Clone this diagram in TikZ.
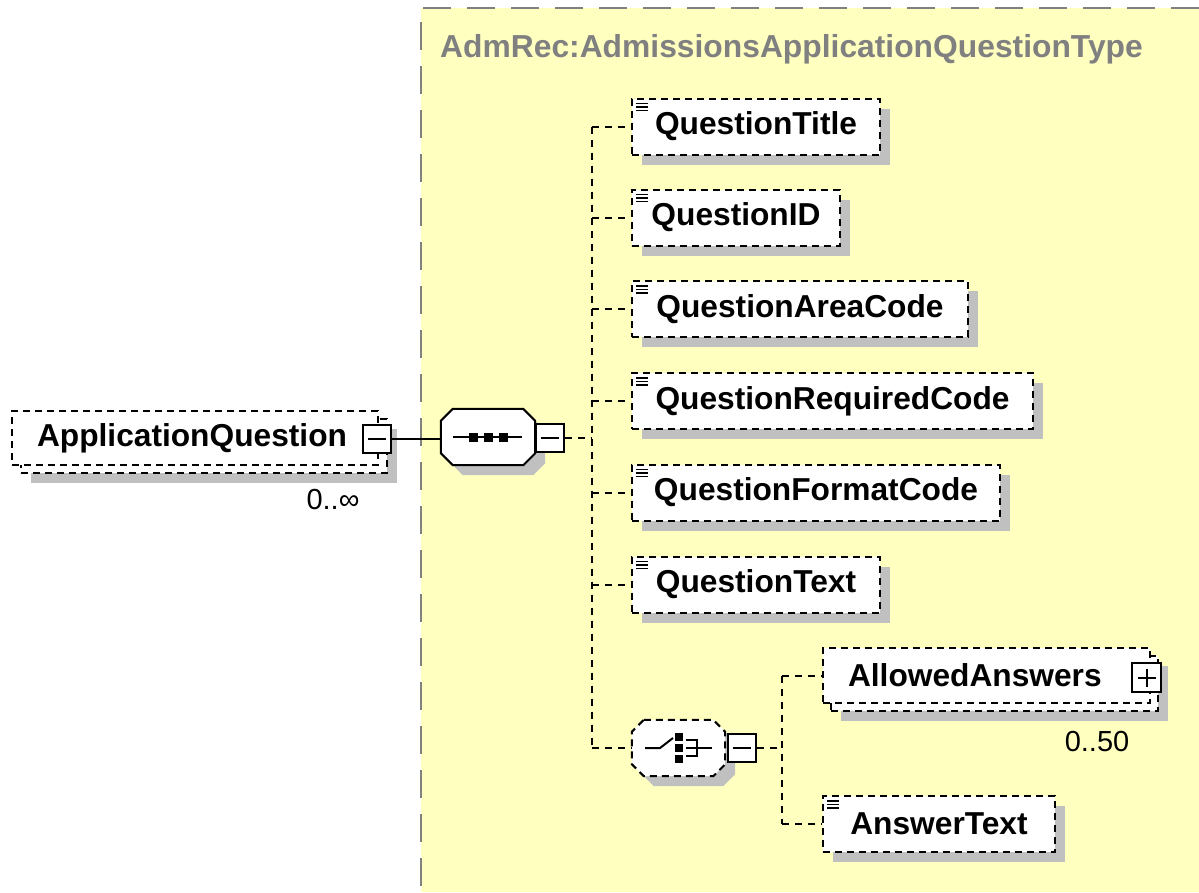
\documentclass[tikz,border=0pt]{standalone}
\usepackage{fontspec}
\setmainfont{Liberation Sans}
\usetikzlibrary{shadows,calc}
\definecolor{typebg}{RGB}{255,255,192}
\definecolor{shadowgray}{RGB}{192,192,192}
\definecolor{typegray}{RGB}{128,128,128}
\newcommand{\elemfont}{\bfseries\fontsize{31.7}{36}\selectfont}
\newcommand{\titlefont}{\bfseries\fontsize{31.8}{36}\selectfont}
\newcommand{\multfont}{\fontsize{29}{32}\selectfont}
% octagon outline around a named node
\newcommand{\octpath}[1]{($(#1.north west)+(12,0)$) -- ($(#1.north east)+(-12,0)$) -- ($(#1.north east)+(0,12)$) -- ($(#1.south east)+(0,-12)$) -- ($(#1.south east)+(-12,0)$) -- ($(#1.south west)+(12,0)$) -- ($(#1.south west)+(0,-12)$) -- ($(#1.north west)+(0,12)$) -- cycle}
\tikzset{
  shd/.style={drop shadow={shadow xshift=10pt,shadow yshift=-10pt,fill=shadowgray,opacity=1}},
  dsh/.style={dash pattern=on 7pt off 5pt},
  elem/.style={draw=black, line width=2pt, dsh, fill=white, minimum height=56pt,
    inner sep=0pt, font=\elemfont},
  leaf/.style={elem, shd},
  stackbox/.style={draw=black, line width=2pt, dsh, fill=white, shd, inner sep=0pt},
  wideelem/.style={elem, inner xsep=25pt, align=left, minimum height=54pt},
  octo/.style={rectangle, draw=none, inner sep=0pt},
  octline/.style={draw=black, line width=2pt, fill=white, shd},
  togglebox/.style={draw=black, line width=2pt, fill=white, minimum size=28pt, inner sep=0pt},
  conn/.style={draw=black, line width=2pt, dash pattern=on 7pt off 6pt},
  icon/.style={line width=2pt, black},
  mult/.style={font=\multfont, anchor=base, inner sep=0pt},
}
\begin{document}
\begin{tikzpicture}[x=1pt,y=-1pt]
\useasboundingbox (0,0) rectangle (1199,892);
\fill[white] (0,0) rectangle (1199,892);
% type area
\fill[typebg] (421,8) rectangle (1199,892);
\draw[typegray, line width=2pt, dash pattern=on 28pt off 16pt] (1199,8) -- (421,8) -- (421,892);
\node[anchor=base west, text=typegray, font=\titlefont, inner sep=0pt] (title) at (440,57) {AdmRec:AdmissionsApplicationQuestionType};

% ApplicationQuestion
\node[stackbox, minimum width=366pt, minimum height=54pt] (aqs) at (204,446) {};
\node[wideelem, text width=316pt] (aq) at (195,438) {ApplicationQuestion};
\node[togglebox] (aqm) at (376.5,438.5) {};
\draw[icon] ($(aqm.center)+(-9,0)$) -- ($(aqm.center)+(9,0)$);
\node[mult] (aqmult) at (333,509) {0..∞};

% sequence compositor
\node[octo, minimum width=94pt, minimum height=56pt] (seq) at (488,437) {};
\path[octline] \octpath{seq};
\draw[icon] ($(seq.center)+(-35,0)$) -- ($(seq.center)+(34,0)$);
\foreach \dx in {-15,0,15} \fill ($(seq.center)+(\dx-4.5,-4.5)$) rectangle ($(seq.center)+(\dx+4.5,4.5)$);
\node[togglebox] (seqm) at (549.5,437.5) {};
\draw[icon] ($(seqm.center)+(-9,0)$) -- ($(seqm.center)+(9,0)$);

\draw[line width=2pt] (aqm.east) -- (aqm.east -| seq.west);

% children
\coordinate (bx) at (592,0);
\node[leaf, minimum width=248pt] (qt)  at (756,126.5) {QuestionTitle};
\node[leaf, minimum width=208pt] (qid) at (736,217.5) {QuestionID};
\node[leaf, minimum width=336pt] (qac) at (800,309) {QuestionAreaCode};
\node[leaf, minimum width=401pt] (qrc) at (832.5,401) {QuestionRequiredCode};
\node[leaf, minimum width=368pt] (qfc) at (816,492.5) {QuestionFormatCode};
\node[leaf, minimum width=248pt] (qtx) at (756,584.5) {QuestionText};

% choice compositor
\node[octo, minimum width=93pt, minimum height=56pt] (ch) at (678.5,748) {};
\path[octline, dsh] \octpath{ch};
\draw[icon] ($(ch.center)+(-33.5,0)$) -- ($(ch.center)+(-18.5,0)$) -- ($(ch.center)+(-5.5,-10)$);
\foreach \dy in {-11,0,11} \fill ($(ch.center)+(-3.5,\dy-4)$) rectangle ($(ch.center)+(4.5,\dy+4)$);
\draw[icon] ($(ch.center)+(7,-8)$) -- ($(ch.center)+(18.5,-8)$) -- ($(ch.center)+(18.5,8)$) -- ($(ch.center)+(7,8)$);
\draw[icon] ($(ch.center)+(7,0)$) -- ($(ch.center)+(33.5,0)$);
\node[togglebox] (chm) at (741.5,748) {};
\draw[icon] ($(chm.center)+(-9,0)$) -- ($(chm.center)+(9,0)$);

\draw[conn] (seqm.east) -- (seqm.east -| bx);
\draw[conn] (qt.west -| bx) -- (ch.west -| bx);
\foreach \n in {qt,qid,qac,qrc,qfc,qtx,ch} \draw[conn] (\n.west -| bx) -- (\n.west);

% AllowedAnswers / AnswerText
\coordinate (bx2) at (782,0);
\node[stackbox, minimum width=327pt, minimum height=55pt] (aas) at (994.5,683.5) {};
\node[wideelem, text width=277pt, minimum height=55pt] (aa) at (986.5,675.5) {AllowedAnswers};
\node[togglebox, minimum size=29pt] (aap) at (1146.5,677.5) {};
\draw[icon] ($(aap.center)+(-9,0)$) -- ($(aap.center)+(9,0)$);
\draw[icon] ($(aap.center)+(0,-9)$) -- ($(aap.center)+(0,9)$);
\node[mult] (aamult) at (1097,751) {0..50};
\node[leaf, minimum width=232pt] (at) at (939,824) {AnswerText};

\draw[conn] (chm.east) -- (chm.east -| bx2);
\draw[conn] (aa.west -| bx2) -- (at.west -| bx2);
\foreach \n in {aa,at} \draw[conn] (\n.west -| bx2) -- (\n.west);

% simple-content icons
\foreach \n in {qt,qid,qac,qrc,qfc,qtx,at}
  \foreach \dy in {6,9.5,13}
    \draw[line width=1.5pt] ($(\n.north west)+(5,\dy)$) -- ++(12,0);
\end{tikzpicture}
\end{document}
